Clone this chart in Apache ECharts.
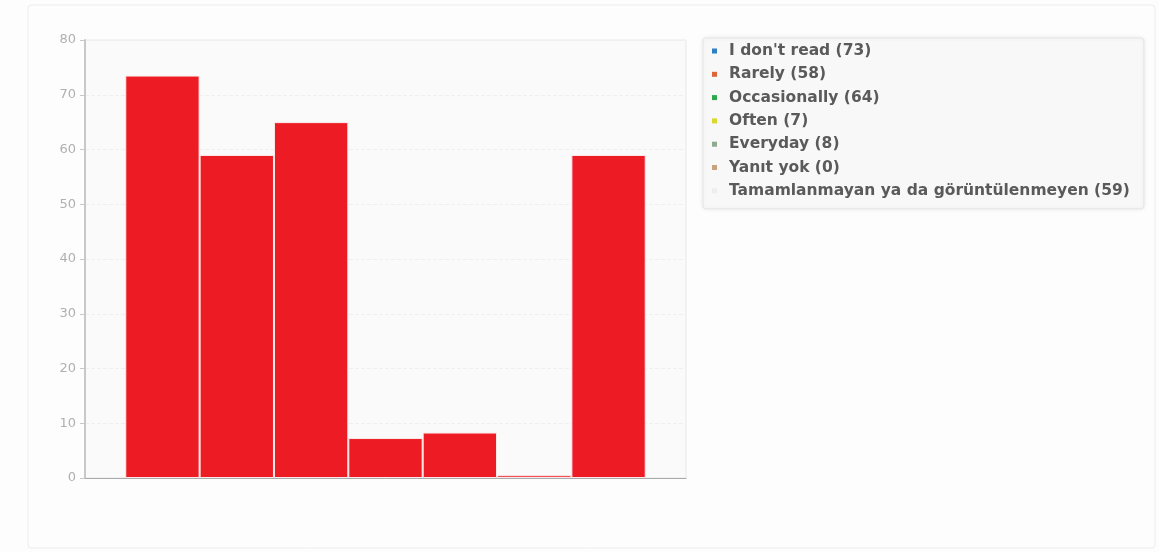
<!DOCTYPE html>
<html>
<head>
<meta charset="utf-8">
<script src="https://cdn.jsdelivr.net/npm/echarts@6/dist/echarts.min.js"></script>
<style>
html,body{margin:0;padding:0;background:#fdfdfd;}
#chart{width:1159px;height:552px;}
</style>
</head>
<body>
<div id="chart"></div>
<script>
const categories = ["I don't read", "Rarely", "Occasionally", "Often", "Everyday", "Yanıt yok", "Tamamlanmayan ya da görüntülenmeyen"];
const counts = [73, 58, 64, 7, 8, 0, 59];
const barHeights = [73.5, 59, 65, 7.3, 8.3, 0.5, 59];
const legendColors = ['#2f7fc1', '#e0643a', '#2ea84a', '#d9d92c', '#8faa8f', '#c9a27e', '#eeeeee'];
const yTicks = { min: 0, max: 80, interval: 10 };

const chart = echarts.init(document.getElementById('chart'), null, { renderer: 'canvas' });

const series = categories.map((c, i) => ({
  name: c + ' (' + counts[i] + ')',
  type: 'bar',
  data: [barHeights[i]],
  barGap: '0%',
  barCategoryGap: '13.4%',
  color: legendColors[i],
  itemStyle: { color: '#ed1c24', borderColor: '#fbe9e9', borderWidth: 1 },
  emphasis: { disabled: true }
}));

chart.setOption({
  animation: false,
  backgroundColor: '#fdfdfd',
  graphic: [
    { type: 'rect', shape: { x: 28, y: 5, width: 1127, height: 543, r: 3 }, style: { fill: '#fdfdfd', stroke: '#ececec', lineWidth: 1 }, z: -10 },
    { type: 'rect', shape: { x: 85, y: 40, width: 601, height: 438 }, style: { fill: '#fafafa', stroke: '#e8e8e8', lineWidth: 1 }, z: -5 }
  ],
  grid: { left: 85, right: 473, top: 40, bottom: 74, containLabel: false },
  legend: {
    orient: 'vertical',
    left: 703,
    top: 38,
    padding: [5, 14, 10, 9],
    backgroundColor: '#f8f8f8',
    borderColor: '#e6e6e6',
    borderWidth: 1,
    borderRadius: 3,
    shadowColor: 'rgba(0,0,0,0.08)',
    shadowBlur: 4,
    icon: 'rect',
    itemWidth: 5,
    itemHeight: 5,
    itemGap: 7.3,
    selectedMode: false,
    textStyle: { fontFamily: 'DejaVu Sans', fontSize: 15.5, fontWeight: 'bold', color: '#5a5a5a', lineHeight: 15, padding: [0, 0, 0, 7] },
    data: series.map((s, i) => ({ name: s.name, itemStyle: { color: legendColors[i], borderWidth: 0 } }))
  },
  xAxis: {
    type: 'category',
    data: [''],
    axisLine: { lineStyle: { color: '#aaaaaa' } },
    axisTick: { show: false },
    axisLabel: { show: false },
    splitLine: { show: false }
  },
  yAxis: {
    type: 'value',
    min: yTicks.min,
    max: yTicks.max,
    interval: yTicks.interval,
    axisLine: { show: true, lineStyle: { color: '#c8c8c8', width: 2 } },
    axisTick: { show: true, length: 5, lineStyle: { color: '#c8c8c8' } },
    axisLabel: { color: '#b0b0b0', fontFamily: 'DejaVu Sans', fontSize: 13, margin: 9 },
    splitLine: { show: true, lineStyle: { color: '#efefef', type: 'dashed' } }
  },
  series: series
});
</script>
</body>
</html>
